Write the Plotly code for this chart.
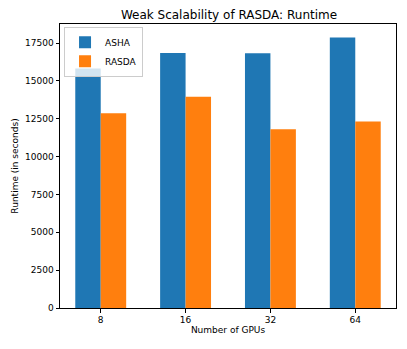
import plotly.graph_objects as go

# Data
gpus = ["8", "16", "32", "64"]
asha_runtime = [15820, 16840, 16830, 17870]
rasda_runtime = [12870, 13950, 11810, 12320]
y_ticks = [0, 2500, 5000, 7500, 10000, 12500, 15000, 17500]

BLUE = "#1f77b4"
ORANGE = "#ff7f0e"
FONT = "DejaVu Sans"

# the page body keeps its default 8px margin, so the figure is 8px smaller
W, H = 399, 341

pos = list(range(len(gpus)))
width = 0.3

fig = go.Figure()
fig.add_trace(go.Bar(x=pos, y=asha_runtime, name="ASHA", width=width, offset=-width,
                     marker=dict(color=BLUE, line=dict(width=0))))
fig.add_trace(go.Bar(x=pos, y=rasda_runtime, name="RASDA", width=width, offset=0,
                     marker=dict(color=ORANGE, line=dict(width=0))))

fig.update_layout(
    width=W, height=H,
    margin=dict(l=52, r=11, t=16, b=41, autoexpand=False),
    paper_bgcolor="white", plot_bgcolor="white",
    font=dict(family=FONT, size=9, color="black"),
    title=dict(text="Weak Scalability of RASDA: Runtime", x=221 / W, xanchor="center",
               y=1 - 7 / H, yanchor="middle", font=dict(size=12)),
    barmode="overlay",
    showlegend=True,
    legend=dict(x=0.012, y=0.99, xanchor="left", yanchor="top",
                bgcolor="rgba(255,255,255,0.8)", bordercolor="#cccccc", borderwidth=1,
                font=dict(size=9), tracegroupgap=0, itemwidth=30),
)
fig.update_xaxes(
    range=[-0.48, 3.48], tickvals=pos, ticktext=gpus,
    showline=True, linecolor="black", linewidth=1, mirror=True,
    ticks="outside", ticklen=3.5, tickcolor="black", showgrid=False, zeroline=False,
    title=dict(text="Number of GPUs", font=dict(size=9), standoff=2),
)
fig.update_yaxes(
    range=[0, 18760], tickvals=y_ticks, ticktext=[str(v) for v in y_ticks],
    showline=True, linecolor="black", linewidth=1, mirror=True,
    ticks="outside", ticklen=3.5, tickcolor="black", showgrid=False, zeroline=False,
    title=dict(text="Runtime (in seconds)", font=dict(size=9), standoff=4),
)

fig.write_html("out.html")
